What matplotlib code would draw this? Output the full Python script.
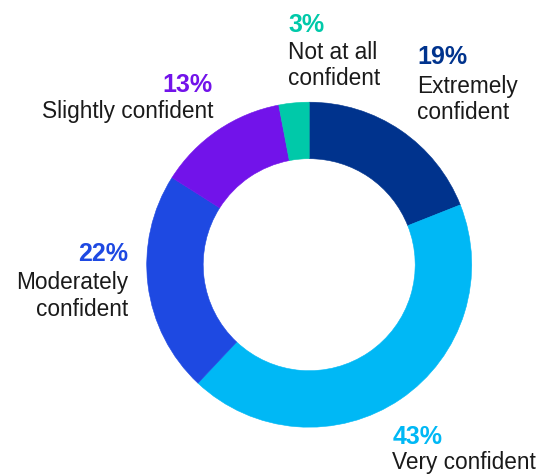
import matplotlib
matplotlib.use("Agg")
import matplotlib.pyplot as plt

categories = ["Extremely confident", "Very confident", "Moderately confident",
              "Slightly confident", "Not at all confident"]
values = [19, 43, 22, 13, 3]
pct_labels = ["19%", "43%", "22%", "13%", "3%"]
colors = ["#00338D", "#00B8F5", "#1E49E2", "#7213EA", "#00C9A9"]

W, H = 542, 474
fig = plt.figure(figsize=(W / 100, H / 100), dpi=100)
ax = fig.add_axes([0, 0, 1, 1])
ax.set_xlim(0, W)
ax.set_ylim(0, H)
ax.set_aspect("equal")
ax.axis("off")

cx, cy = 309.2, H - 264.7
R, r_in = 162.5, 106.0
ax.pie(values, colors=colors, startangle=90, counterclock=False,
       center=(cx, cy), radius=R, frame=True,
       wedgeprops=dict(width=R - r_in, linewidth=0.4, edgecolor=None))
for w, c in zip(ax.patches, colors):
    w.set_edgecolor(c)
ax.set_xlim(0, W)
ax.set_ylim(0, H)
ax.axis("off")

font = "Liberation Sans"
pct_size = 18
lab_size = 16.3
text_col = "#1a1a1a"

# (pct x, pct baseline, alignment, label lines with baselines)
layout = {
    "Extremely confident": (417.0, 64.3, "left", [("Extremely", 92.8), ("confident", 119.3)]),
    "Very confident": (392.5, 444.3, "left", [("Very confident", 469.0)]),
    "Moderately confident": (128.5, 260.7, "right", [("Moderately", 289.5), ("confident", 316.0)]),
    "Slightly confident": (213.0, 91.7, "right", [("Slightly confident", 118.0)]),
    "Not at all confident": (288.0, 31.7, "left", [("Not at all", 59.0), ("confident", 85.3)]),
}

for cat, pct, col in zip(categories, pct_labels, colors):
    x, yb, ha, lines = layout[cat]
    ax.text(x, H - yb, pct, color=col, fontsize=pct_size, fontweight="bold",
            family=font, ha=ha, va="baseline")
    for txt, lb in lines:
        ax.text(x, H - lb, txt, color=text_col, fontsize=lab_size,
                family=font, ha=ha, va="baseline")

fig.savefig("out.png", dpi=100, facecolor="white")
